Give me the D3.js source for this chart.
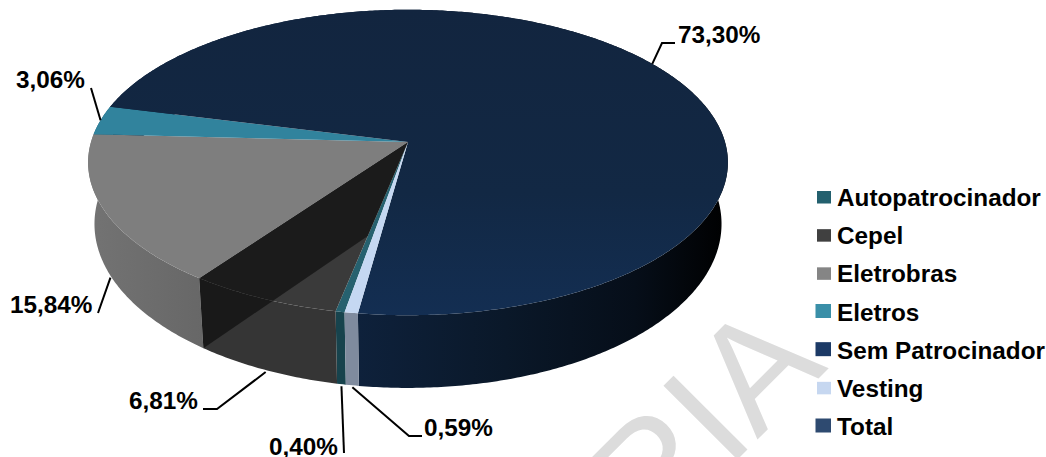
<!DOCTYPE html>
<html lang="pt">
<head>
<meta charset="utf-8">
<title>Participantes por patrocinador</title>
<script src="https://cdn.jsdelivr.net/npm/d3@7/dist/d3.min.js"></script>
<style>
  html, body { margin: 0; padding: 0; background: #fff; }
  svg { display: block; }
  text { font-family: "Liberation Sans", Arial, sans-serif; font-weight: 700; fill: #000; }
</style>
</head>
<body>
<svg id="chart" width="1046" height="457"></svg>
<script>
// Slice names and shares, in clockwise order from the front of the disc
const categories = ["Autopatrocinador", "Cepel", "Eletrobras", "Eletros", "Sem Patrocinador", "Vesting"];
const shares = [0.40, 6.81, 15.84, 3.06, 73.30, 0.59];
const shareLabels = ["0,40%", "6,81%", "15,84%", "3,06%", "73,30%", "0,59%"];
const legendNames = ["Autopatrocinador", "Cepel", "Eletrobras", "Eletros", "Sem Patrocinador", "Vesting", "Total"];

// Colours per slice
const topColors = ["#26616f", "#3a3a3a", "#7e7e7e", "#31839d", "url(#semTop)", "#c5d8f2"];
const sideColors = ["#17434d", "#353535", "url(#eletrobrasSide)", "#24637a", "url(#semSide)", "#7f8b9e"];
const legendColors = ["#23606e", "#404040", "#858585", "#3a8fa8", "#1c3a66", "#c6d7f0", "#2e4a70"];
// Extra swatch margin for the entries drawn with a soft outer edge
const legendPad = [0, 0, 0, 1.5, 1.5, 0, 1.5];

// Leader elbows and label anchors, by slice
const leaderLayout = [
  { rim: "bottom", path: [[344, 453]], tx: 269, ty: 455 },
  { rim: "bottom", path: [[217, 409], [203, 409]], tx: 129, ty: 409 },
  { rim: "bottom", path: [[98, 313]], tx: 10, ty: 313 },
  { rim: "top", path: [[91, 88]], tx: 16, ty: 88 },
  { rim: "top", path: [[662, 43], [675, 43]], tx: 678, ty: 43 },
  { rim: "bottom", path: [[409, 436], [422, 436]], tx: 424, ty: 436 }
];

const svg = d3.select("#chart");
const defs = svg.append("defs");

function gradient(id, x1, y1, x2, y2, stops) {
  const g = defs.append("linearGradient")
    .attr("id", id).attr("gradientUnits", "userSpaceOnUse")
    .attr("x1", x1).attr("y1", y1).attr("x2", x2).attr("y2", y2);
  stops.forEach(([o, c]) => g.append("stop").attr("offset", o).attr("stop-color", c));
}
gradient("semTop", 0, 10, 0, 315, [[0, "#12253f"], [0.6, "#122844"], [1, "#132e52"]]);
gradient("semSide", 358, 0, 728, 0, [[0, "#0e213b"], [0.4, "#0a1829"], [0.75, "#060e19"], [1, "#000000"]]);
gradient("eletrobrasSide", 90, 0, 205, 0, [[0, "#737373"], [0.5, "#6d6d6d"], [1, "#676767"]]);

// Large diagonal watermark behind the chart
svg.append("text")
  .attr("transform", "translate(829,368) rotate(-45)")
  .attr("text-anchor", "end")
  .style("font-size", "152px")
  .style("font-weight", 400)
  .style("fill", "#dcdcdc")
  .text("RIA");

// Perspective view of the disc: nearer points spread further from the centre
const perspective = 0.134;
const xTop = d3.scaleLinear().domain([-1, 1]).range([91, 725]);
const yTop = d3.scaleLinear().domain([-1, 1]).range([-8, 292]);
const xBottom = d3.scaleLinear().domain([-1, 1]).range([97.3, 718.7]);
const yBottom = d3.scaleLinear().domain([-1, 1]).range([41, 363]);

function project(theta, xs, ys, radius = 1) {
  const u = -Math.sin(theta) * radius;
  const v = Math.cos(theta) * radius;
  const w = 1 - perspective * v;
  return [xs(u / w), ys(v / w)];
}
const onTop = (t, r) => project(t, xTop, yTop, r);
const onBottom = (t, r) => project(t, xBottom, yBottom, r);

const startAngle = 10 * Math.PI / 180;
const slices = d3.pie().sort(null).startAngle(startAngle).endAngle(startAngle + 2 * Math.PI)(shares);

const arcAngles = (a, b) => {
  const n = Math.max(2, Math.ceil((b - a) / 0.01));
  return d3.range(n + 1).map(i => a + (b - a) * i / n);
};
const line = d3.line();
const apex = onTop(0, 0);

const layer = svg.append("g");

// Outer walls first, so the top faces cover whatever lies behind the disc
layer.selectAll("path.side").data(slices).join("path")
  .attr("class", "side")
  .attr("fill", (d, i) => sideColors[i])
  .attr("d", d => {
    const angles = arcAngles(d.startAngle, d.endAngle);
    return line([...angles.map(t => onTop(t)), ...angles.reverse().map(t => onBottom(t))]) + "Z";
  });

layer.selectAll("path.top").data(slices).join("path")
  .attr("class", "top")
  .attr("fill", (d, i) => topColors[i])
  .attr("d", d => line([apex, ...arcAngles(d.startAngle, d.endAngle).map(t => onTop(t))]) + "Z");

// Inner wall of the Eletrobras wedge, which stands over the Cepel slice
const cepel = slices[1];
layer.append("path")
  .attr("fill", "#000").attr("fill-opacity", 0.52)
  .attr("d", line([
    apex,
    onTop(cepel.endAngle),
    onBottom(cepel.endAngle),
    onTop(cepel.startAngle, 0.59)
  ]) + "Z");

// Leader lines start on the rim at each slice's mid-angle
const labels = svg.append("g");
labels.selectAll("path").data(slices).join("path")
  .attr("fill", "none").attr("stroke", "#000").attr("stroke-width", 2)
  .attr("d", (d, i) => {
    const mid = (d.startAngle + d.endAngle) / 2;
    const layout = leaderLayout[i];
    const start = layout.rim === "top" ? onTop(mid) : onBottom(mid);
    if (layout.rim === "bottom") start[1] += 2;
    return line([start, ...layout.path]);
  });
labels.selectAll("text").data(slices).join("text")
  .attr("x", (d, i) => leaderLayout[i].tx)
  .attr("y", (d, i) => leaderLayout[i].ty)
  .style("font-size", "24.3px")
  .text((d, i) => shareLabels[i]);

// Legend
const legendY = d3.scalePoint().domain(legendNames).range([206, 435]);
const legend = svg.append("g").selectAll("g").data(legendNames).join("g")
  .attr("transform", d => `translate(0,${legendY(d)})`);
legend.append("rect")
  .attr("x", (d, i) => 817 - legendPad[i])
  .attr("y", (d, i) => -15 - legendPad[i])
  .attr("width", (d, i) => 14 + legendPad[i])
  .attr("height", (d, i) => 12.5 + legendPad[i])
  .attr("fill", (d, i) => legendColors[i]);
legend.append("text")
  .attr("x", 837)
  .style("font-size", "24.3px")
  .text(d => d);
</script>
</body>
</html>
